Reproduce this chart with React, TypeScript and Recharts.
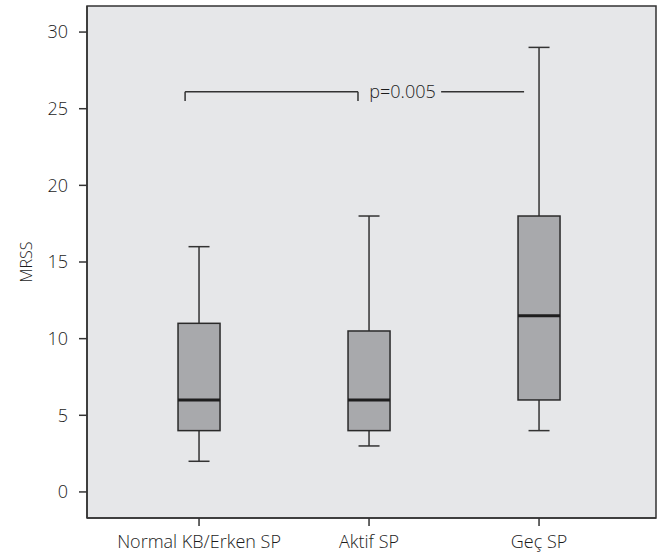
import React from "react";
import {
  ComposedChart,
  Bar,
  XAxis,
  YAxis,
  ReferenceArea,
  ReferenceLine,
  ReferenceDot,
} from "recharts";

const categories = ["Normal KB/Erken SP", "Aktif SP", "Geç SP"];
const positions = [1, 2, 3];
const mins = [2, 3, 4];
const q1s = [4, 4, 6];
const medians = [6, 6, 11.5];
const q3s = [11, 10.5, 18];
const maxs = [16, 18, 29];
const yTicks = [0, 5, 10, 15, 20, 25, 30];

// significance bracket, in group units (1 = first group centre)
const bracketY = 26.1;
const bracketTickY = 25.5;
const bracketLeft = 0.918;
const bracketMid = 1.935;
const bracketTextX = 2.197;
const bracketLineStart = 2.424;
const bracketRight = 2.912;
const pLabel = "p=0.005";

const yDomain: [number, number] = [-1.7, 31.7];
const xDomain: [number, number] = [0.341, 3.688];

const data = categories.map((name, i) => ({
  name,
  pos: positions[i],
  box: [q1s[i], q3s[i]],
  min: mins[i],
  q1: q1s[i],
  median: medians[i],
  q3: q3s[i],
  max: maxs[i],
}));

const INK = "#333333";
const FONT = "'Open Sans', sans-serif";
const textStyle = { fill: "#1c1c1c", fontSize: 18, fontFamily: FONT, fontWeight: 300 };

const BoxShape = (props: any) => {
  const { x, y, width, height, payload } = props;
  const top = Math.min(y, y + height);
  const h = Math.abs(height);
  const ppu = h / (payload.q3 - payload.q1);
  const toPx = (v: number) => top + (payload.q3 - v) * ppu;
  const cx = x + width / 2;
  const cap = 10.5;
  return (
    <g>
      <line x1={cx} x2={cx} y1={toPx(payload.max)} y2={top} stroke={INK} strokeWidth={1.5} />
      <line x1={cx} x2={cx} y1={top + h} y2={toPx(payload.min)} stroke={INK} strokeWidth={1.5} />
      <line x1={cx - cap} x2={cx + cap} y1={toPx(payload.max)} y2={toPx(payload.max)} stroke={INK} strokeWidth={1.5} />
      <line x1={cx - cap} x2={cx + cap} y1={toPx(payload.min)} y2={toPx(payload.min)} stroke={INK} strokeWidth={1.5} />
      <rect x={x} y={top} width={width} height={h} fill="#a8a9ac" stroke="#2a2a2a" strokeWidth={1.5} />
      <line x1={x} x2={x + width} y1={toPx(payload.median)} y2={toPx(payload.median)} stroke="#1e1e1e" strokeWidth={3} />
    </g>
  );
};

export default function App() {
  return (
    <div style={{ position: "absolute", left: 0, top: 0, fontFamily: FONT }}>
      <ComposedChart
        width={657}
        height={558}
        data={data}
        margin={{ top: 6, right: 1, bottom: 0, left: 0 }}
      >
        <XAxis
          dataKey="pos"
          type="number"
          domain={xDomain}
          allowDataOverflow
          ticks={positions}
          tickFormatter={(v: number) => categories[positions.indexOf(v)] ?? ""}
          axisLine={{ stroke: INK, strokeWidth: 1.5 }}
          tickLine={{ stroke: INK, strokeWidth: 1.5 }}
          tickSize={8}
          tickMargin={9}
          height={40}
          tick={textStyle}
        />
        <YAxis
          domain={yDomain}
          ticks={yTicks}
          allowDataOverflow
          width={87}
          axisLine={{ stroke: INK, strokeWidth: 1.5 }}
          tickLine={{ stroke: INK, strokeWidth: 1.5 }}
          tickSize={8}
          tickMargin={11}
          tick={textStyle}
          label={{
            value: "MRSS",
            angle: -90,
            position: "insideLeft",
            offset: 26,
            style: { ...textStyle, fontSize: 16, textAnchor: "middle" },
          }}
        />
        <ReferenceArea
          x1={xDomain[0]}
          x2={xDomain[1]}
          y1={yDomain[0]}
          y2={yDomain[1]}
          fill="#e6e7e9"
          fillOpacity={1}
          stroke={INK}
          strokeWidth={1.5}
          ifOverflow="visible"
        />
        <Bar dataKey="box" barSize={42} shape={BoxShape} isAnimationActive={false} />
        <ReferenceLine
          segment={[{ x: bracketLeft, y: bracketY }, { x: bracketMid, y: bracketY }]}
          stroke={INK}
          strokeWidth={1.5}
        />
        <ReferenceLine
          segment={[{ x: bracketLeft, y: bracketY }, { x: bracketLeft, y: bracketTickY }]}
          stroke={INK}
          strokeWidth={1.5}
        />
        <ReferenceLine
          segment={[{ x: bracketMid, y: bracketY }, { x: bracketMid, y: bracketTickY }]}
          stroke={INK}
          strokeWidth={1.5}
        />
        <ReferenceLine
          segment={[{ x: bracketLineStart, y: bracketY }, { x: bracketRight, y: bracketY }]}
          stroke={INK}
          strokeWidth={1.5}
        />
        <ReferenceDot
          x={bracketTextX}
          y={bracketY}
          r={0}
          fill="none"
          stroke="none"
          label={{ value: pLabel, position: "center", ...textStyle }}
        />
      </ComposedChart>
    </div>
  );
}
